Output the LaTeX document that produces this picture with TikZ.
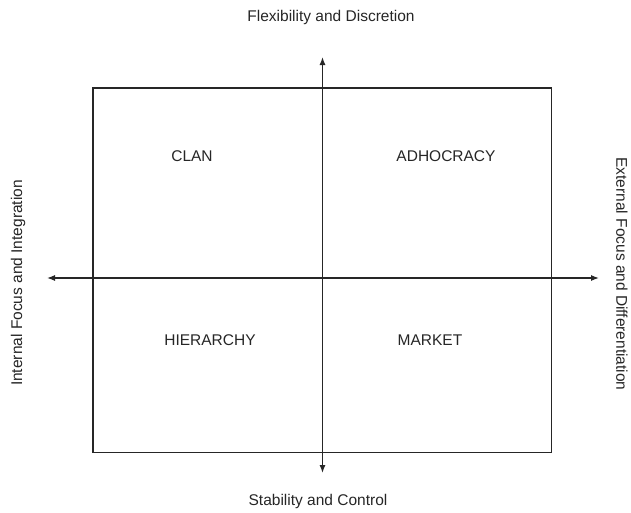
\documentclass[tikz,border=0pt]{standalone}
\usepackage{fontspec}
\setmainfont{Liberation Sans}
\usetikzlibrary{arrows.meta}
\begin{document}
\begin{tikzpicture}[x=1pt,y=-1pt,
  lbl/.style={inner sep=0pt,font=\fontsize{15.5}{18}\selectfont,text=black!85},
  axis/.style={line width=1.2pt,draw=black!85,-{Latex[length=8pt,width=6pt]}},
  frame/.style={line width=1.2pt,draw=black!85}]
\useasboundingbox (0,0) rectangle (631,512);
\coordinate (tl) at (93,88);
\coordinate (br) at (551.5,452.5);
\draw[frame] (tl) rectangle (br);
\coordinate (o) at (322.5,278);
\coordinate (top) at (322.5,57);
\coordinate (bot) at (322.5,473);
\coordinate (lft) at (47,278);
\coordinate (rgt) at (599,278);
\draw[axis] (o) -- (top);
\draw[axis] (o) -- (bot);
\draw[axis] (o) -- (lft);
\draw[axis] (o) -- (rgt);
\node[lbl] (flex) at (331,17) {Flexibility and Discretion};
\node[lbl] (stab) at (318,501) {Stability and Control};
\node[lbl,rotate=90] (int) at (18,283) {Internal Focus and Integration};
\node[lbl,rotate=-90] (ext) at (622,274) {External Focus and Differentiation};
\node[lbl] (clan) at (192,156) {CLAN};
\node[lbl] (adh) at (446,156) {ADHOCRACY};
\node[lbl] (hier) at (210,340) {HIERARCHY};
\node[lbl] (mkt) at (430,340) {MARKET};
\end{tikzpicture}
\end{document}
